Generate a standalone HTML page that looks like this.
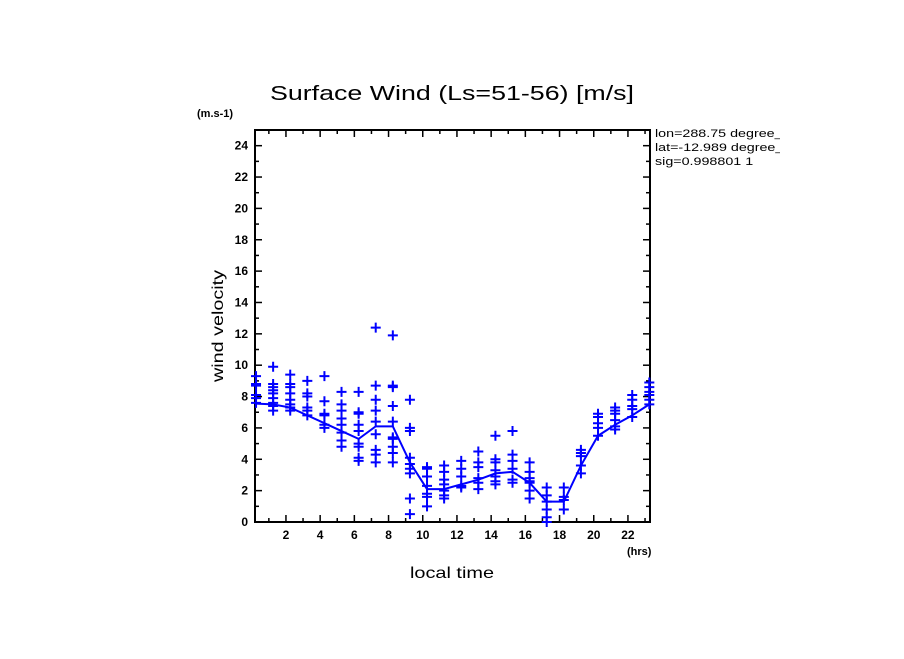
<!DOCTYPE html>
<html><head><meta charset="utf-8"><style>
body{margin:0;background:#fff;}
svg text{font-family:"Liberation Sans",sans-serif;}
</style></head><body>
<svg id="chart" width="904" height="654" xmlns="http://www.w3.org/2000/svg">
<defs><clipPath id="infoclip"><rect x="650" y="120" width="130" height="60"/></clipPath></defs>
<rect width="904" height="654" fill="#fff"/>
<text x="270" y="100" font-size="20" textLength="364" lengthAdjust="spacingAndGlyphs">Surface Wind  (Ls=51-56) [m/s]</text>
<text x="197" y="117" font-size="11" font-weight="bold">(m.s-1)</text>
<text x="627" y="555" font-size="11" font-weight="bold">(hrs)</text>
<text x="410" y="578" font-size="16" textLength="84" lengthAdjust="spacingAndGlyphs">local time</text>
<text x="223" y="382" font-size="16" textLength="112" lengthAdjust="spacingAndGlyphs" transform="rotate(-90 223 382)">wind velocity</text>
<g clip-path="url(#infoclip)">
<g font-size="11" transform="translate(655 0) scale(1.3 1) translate(-655 0)">
<text x="655" y="137">lon=288.75 degree_east</text>
<text x="655" y="151">lat=-12.989 degree_north</text>
<text x="655" y="165">sig=0.998801 1</text>
</g>
</g>
<g id="axes"></g>
<g id="marks"></g>
</svg>
<script>
const hours = [];
for (let i = 0; i < 24; i++) hours.push(i + 0.25);
const meanWind = [7.55,7.5,7.3,6.8,6.3,5.8,5.3,6.1,6.1,3.8,2.1,2.1,2.4,2.7,3.1,3.2,2.5,1.3,1.3,3.6,5.5,6.2,6.8,7.5];
const samples = [
[9.3,8.8,8.7,8.1,7.9,7.6],
[9.9,8.8,8.6,8.4,8.2,7.9,7.6,7.4,7.1],
[9.4,8.8,8.6,8.2,7.8,7.5,7.3,7.1],
[9.0,8.2,8.0,7.3,7.1,6.8],
[9.3,7.7,6.9,6.8,6.2,6.0],
[8.3,7.5,7.1,6.6,6.2,5.7,5.2,4.8],
[8.3,7.0,6.9,6.2,5.8,5.0,4.8,4.1,3.9],
[12.4,8.7,7.8,7.1,6.4,5.6,4.6,4.3,3.8],
[11.9,8.7,8.6,7.4,6.4,5.4,5.3,4.8,4.4,3.8],
[7.8,6.0,5.8,4.1,3.7,3.4,3.1,1.5,0.5],
[3.5,3.4,2.9,2.3,1.8,1.6,1.0],
[3.6,3.2,2.7,2.4,2.0,1.7,1.5],
[3.9,3.4,2.9,2.3,2.2],
[4.5,3.8,3.5,2.8,2.5,2.1],
[5.5,4.0,3.8,3.3,2.9,2.6,2.4],
[5.8,4.3,3.9,3.4,2.7,2.5],
[3.8,3.2,2.8,2.6,2.5,2.0,1.5],
[2.2,1.7,1.3,0.8,0.3,0.0],
[2.2,1.6,1.4,0.8],
[4.6,4.4,4.2,3.6,3.1],
[6.9,6.7,6.3,6.0,5.5],
[7.3,7.1,6.9,6.5,6.1,5.9],
[8.1,7.8,7.4,7.2,6.7],
[8.9,8.6,8.3,8.1,7.8,7.5]
];
const xTicks = [2,4,6,8,10,12,14,16,18,20,22];
const yTicks = [0,2,4,6,8,10,12,14,16,18,20,22,24];

const NS = "http://www.w3.org/2000/svg";
const X0 = 255, X1 = 650, Y0 = 522, Y1 = 130;
const xMin = 0.19, xMax = 23.29, yMin = 0, yMax = 25;
function sx(v){ return X0 + (v - xMin) / (xMax - xMin) * (X1 - X0); }
function sy(v){ return Y0 - (v - yMin) / (yMax - yMin) * (Y0 - Y1); }
function mk(tag, attrs, parent){ const e = document.createElementNS(NS, tag); for (const k in attrs) e.setAttribute(k, attrs[k]); parent.appendChild(e); return e; }

const axes = document.getElementById('axes');
const frame = mk('rect', {x:X0, y:Y1, width:X1-X0, height:Y0-Y1, fill:'none', stroke:'#000', 'stroke-width':2}, axes);


for (let h = 1; h <= 23; h++) {
  const len = (h % 2 === 0) ? 7 : 4;
  mk('line', {x1:sx(h), x2:sx(h), y1:Y0, y2:Y0-len, stroke:'#000', 'stroke-width':1.5}, axes);
  mk('line', {x1:sx(h), x2:sx(h), y1:Y1, y2:Y1+len, stroke:'#000', 'stroke-width':1.5}, axes);
}
xTicks.forEach(t => {
  const tx = mk('text', {x:sx(t), y:Y0+17, 'font-size':12, 'font-weight':'bold', 'text-anchor':'middle'}, axes);
  tx.textContent = t;
  
  
});
for (let v = 1; v <= 25; v++) {
  const len = (v % 2 === 0) ? 7 : 4;
  mk('line', {x1:X0, x2:X0+len, y1:sy(v), y2:sy(v), stroke:'#000', 'stroke-width':1.5}, axes);
  mk('line', {x1:X1, x2:X1-len, y1:sy(v), y2:sy(v), stroke:'#000', 'stroke-width':1.5}, axes);
}
yTicks.forEach(t => {
  const tx = mk('text', {x:X0-7, y:sy(t)+4, 'font-size':12, 'font-weight':'bold', 'text-anchor':'end'}, axes);
  tx.textContent = t;
  
  
});

const marks = document.getElementById('marks');
samples.forEach((col, i) => {
  col.forEach(v => {
    const x = sx(hours[i]), y = sy(v);
    const p = mk('path', {d:`M${x-5},${y}H${x+5}M${x},${y-5}V${y+5}`, stroke:'#0000ff', 'stroke-width':2, fill:'none'}, marks);
    
    
  });
});
const line = mk('polyline', {points: meanWind.map((v,i) => `${sx(hours[i])},${sy(v)}`).join(' '), fill:'none', stroke:'#0000ff', 'stroke-width':2}, marks);


</script>
</body></html>
